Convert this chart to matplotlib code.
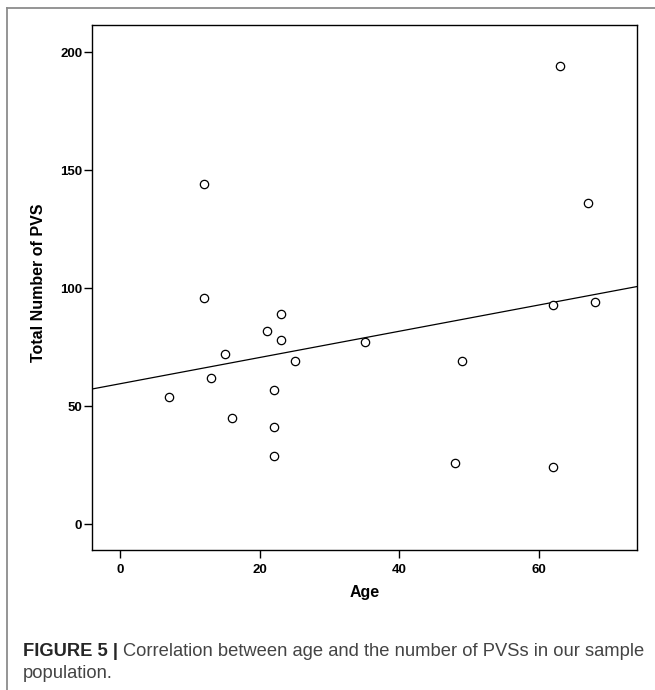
import numpy as np
import matplotlib
matplotlib.use('Agg')
import matplotlib.pyplot as plt
from matplotlib.lines import Line2D

plt.rcParams['font.family'] = ['Liberation Sans', 'DejaVu Sans']

# values
age = [7, 12, 12, 13, 15, 16, 21, 22, 22, 22, 23, 23, 25, 35, 48, 49, 62, 62, 63, 67, 68]
pvs = [54, 144, 96, 62, 72, 45, 82, 57, 41, 29, 89, 78, 69, 77, 26, 69, 93, 24, 194, 136, 94]

x_ticks = [0, 20, 40, 60]
y_ticks = [0, 50, 100, 150, 200]

W, H = 655, 690
fig = plt.figure(figsize=(W / 100, H / 100), dpi=100)
ax = fig.add_axes([92 / W, 1 - 550 / H, 545 / W, 525 / H])

ax.plot(age, pvs, 'o', mfc='white', mec='black', ms=6, mew=0.9, zorder=3)

# linear fit line across the whole plot
slope, icpt = np.polyfit(age, pvs, 1)
xlim = np.array([-4, 74])
ax.plot(xlim, slope * xlim + icpt, color='black', lw=0.9, zorder=2)

ax.set_xlim(*xlim)
ax.set_ylim(-11, 211.5)
ax.set_xticks(x_ticks, labels=[str(t) for t in x_ticks], fontweight='bold')
ax.set_yticks(y_ticks, labels=[str(t) for t in y_ticks], fontweight='bold')
ax.tick_params(axis='both', direction='out', length=6, width=1, labelsize=9.5)
ax.tick_params(axis='y', pad=1)
ax.tick_params(axis='x', pad=4)
for s in ax.spines.values():
    s.set_linewidth(1)

fig.text(364.5 / W, 1 - 593 / H, 'Age', ha='center', va='center',
         fontsize=11.5, fontweight='bold')
fig.text(39 / W, 1 - 283 / H, 'Total Number of PVS', ha='center', va='center',
         rotation=90, fontsize=11.5, fontweight='bold')

# frame of the figure panel
fig.add_artist(Line2D([7 / W, 1], [1 - 8 / H, 1 - 8 / H], color='#8c8c8c', lw=1.3,
                      transform=fig.transFigure))
fig.add_artist(Line2D([7 / W, 7 / W], [0, 1 - 8 / H], color='#8c8c8c', lw=1.3,
                      transform=fig.transFigure))

# caption
t1 = fig.text(23 / W, 1 - 660 / H, 'FIGURE 5 | ', fontsize=13.2, fontweight='bold',
              color='#262626', va='bottom')
ax.annotate('Correlation between age and the number of PVSs in our sample',
            xy=(1, 0), xycoords=t1, va='bottom', ha='left', fontsize=13.2,
            color='#444444', annotation_clip=False)
fig.text(23 / W, 1 - 682 / H, 'population.', fontsize=13.2, color='#444444', va='bottom')

fig.savefig('out.png', dpi=100)
